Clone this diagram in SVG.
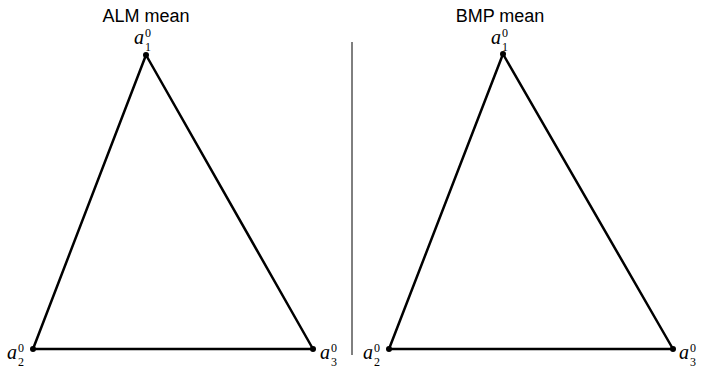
<svg xmlns="http://www.w3.org/2000/svg" width="701" height="368" viewBox="0 0 701 368">
<style>
.t{font-family:"Liberation Sans",Arial,sans-serif;font-size:18px;fill:#000;text-anchor:middle}
.e{stroke:#000;stroke-width:2.5;fill:none;stroke-linejoin:round}
.v{fill:#000}
.a{font-family:"Liberation Serif","Times New Roman",serif;font-style:italic;font-size:20px;fill:#000}
.s{font-style:normal;font-size:12px}
</style>
<rect width="701" height="368" fill="#fff"/>
<text class="t" x="146" y="22">ALM mean</text>
<text class="t" x="500" y="22">BMP mean</text>
<line x1="352" y1="42" x2="352" y2="355" stroke="#000" stroke-width="1"/>
<g id="connectors">
<polygon class="e" points="146,55 33,349 313,349"/>
<polygon class="e" points="503,54 389,349 673,349"/>
</g>
<g id="L1"><circle class="v" cx="146" cy="55" r="3"/><text class="a" x="134" y="44">a<tspan class="s" dx="1" dy="-7">0</tspan><tspan class="s" x="145" dy="14">1</tspan></text></g>
<g id="L2"><circle class="v" cx="33" cy="349" r="3"/><text class="a" x="7" y="359">a<tspan class="s" dx="1" dy="-7">0</tspan><tspan class="s" x="18" dy="14">2</tspan></text></g>
<g id="L3"><circle class="v" cx="313" cy="349" r="3"/><text class="a" x="320" y="359">a<tspan class="s" dx="1" dy="-7">0</tspan><tspan class="s" x="331" dy="14">3</tspan></text></g>
<g id="R1"><circle class="v" cx="503" cy="54" r="3"/><text class="a" x="491" y="44">a<tspan class="s" dx="1" dy="-7">0</tspan><tspan class="s" x="502" dy="14">1</tspan></text></g>
<g id="R2"><circle class="v" cx="389" cy="349" r="3"/><text class="a" x="363" y="359">a<tspan class="s" dx="1" dy="-7">0</tspan><tspan class="s" x="374" dy="14">2</tspan></text></g>
<g id="R3"><circle class="v" cx="673" cy="349" r="3"/><text class="a" x="679" y="359">a<tspan class="s" dx="1" dy="-7">0</tspan><tspan class="s" x="690" dy="14">3</tspan></text></g>
</svg>
